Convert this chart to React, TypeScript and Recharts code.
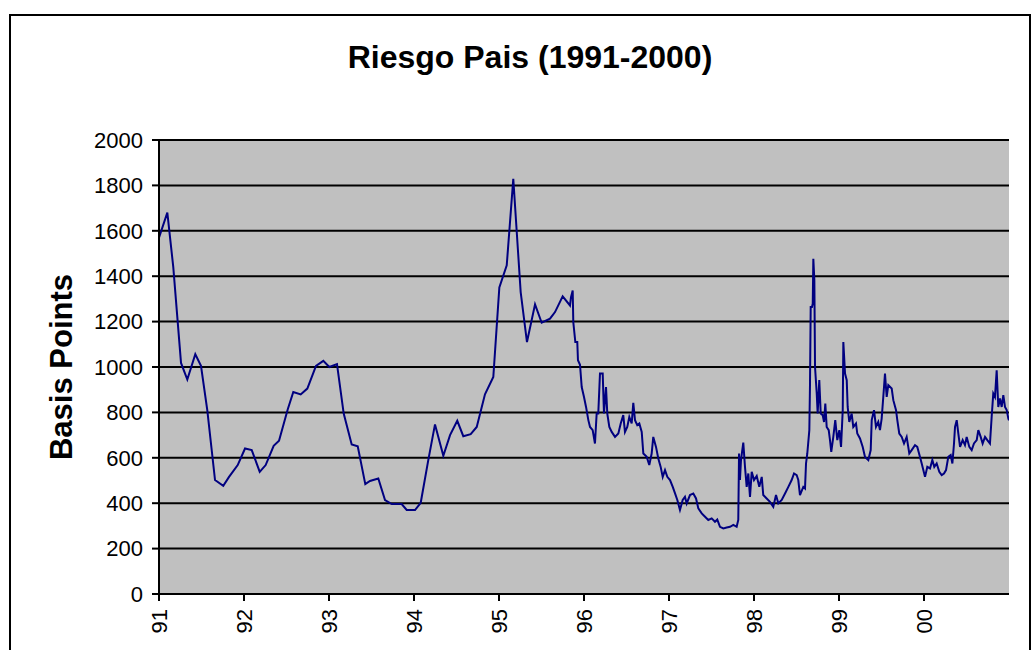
import React from 'react';
import { LineChart, Line, XAxis, YAxis, CartesianGrid } from 'recharts';

const FONT = "Arial, 'Liberation Sans', sans-serif";

const chartTitle = 'Riesgo Pais (1991-2000)';
const yAxisTitle = 'Basis Points';

const xTickValues = [1991, 1992, 1993, 1994, 1995, 1996, 1997, 1998, 1999, 2000];
const xTickLabels = ['91', '92', '93', '94', '95', '96', '97', '98', '99', '00'];
const yTickValues = [0, 200, 400, 600, 800, 1000, 1200, 1400, 1600, 1800, 2000];

// fractional year of each observation
const dates = [
  1991.000, 1991.098, 1991.168, 1991.259, 1991.333, 1991.427, 1991.494, 1991.568, 1991.659, 1991.756,
  1991.824, 1991.926, 1992.012, 1992.091, 1992.185, 1992.255, 1992.349, 1992.412, 1992.514, 1992.580,
  1992.667, 1992.745, 1992.847, 1992.933, 1993.004, 1993.094, 1993.173, 1993.267, 1993.338, 1993.427,
  1993.482, 1993.580, 1993.659, 1993.738, 1993.855, 1993.914, 1994.012, 1994.079, 1994.168, 1994.247,
  1994.345, 1994.424, 1994.509, 1994.580, 1994.667, 1994.738, 1994.835, 1994.933, 1995.004, 1995.091,
  1995.168, 1995.255, 1995.329, 1995.424, 1995.502, 1995.600, 1995.659, 1995.749, 1995.835, 1995.847,
  1995.867, 1995.874, 1995.898, 1995.921, 1995.929, 1995.953, 1995.973, 1996.000, 1996.024, 1996.051,
  1996.071, 1996.102, 1996.129, 1996.149, 1996.168, 1996.188, 1996.220, 1996.235, 1996.259, 1996.274,
  1996.298, 1996.326, 1996.365, 1996.404, 1996.432, 1996.462, 1996.482, 1996.509, 1996.533, 1996.561,
  1996.580, 1996.600, 1996.627, 1996.651, 1996.679, 1996.698, 1996.738, 1996.768, 1996.796, 1996.815,
  1996.847, 1996.874, 1996.902, 1996.926, 1996.953, 1996.980, 1997.012, 1997.044, 1997.071, 1997.098,
  1997.129, 1997.161, 1997.188, 1997.208, 1997.247, 1997.286, 1997.318, 1997.345, 1997.385, 1997.424,
  1997.462, 1997.502, 1997.541, 1997.568, 1997.600, 1997.639, 1997.679, 1997.718, 1997.757, 1997.796,
  1997.815, 1997.824, 1997.835, 1997.847, 1997.874, 1997.894, 1997.914, 1997.933, 1997.953, 1997.973,
  1998.000, 1998.032, 1998.062, 1998.091, 1998.109, 1998.149, 1998.188, 1998.227, 1998.259, 1998.286,
  1998.326, 1998.365, 1998.404, 1998.443, 1998.471, 1998.502, 1998.521, 1998.541, 1998.580, 1998.600,
  1998.612, 1998.627, 1998.651, 1998.659, 1998.667, 1998.682, 1998.691, 1998.698, 1998.710, 1998.718,
  1998.738, 1998.749, 1998.768, 1998.785, 1998.808, 1998.824, 1998.839, 1998.855, 1998.879, 1998.894,
  1998.909, 1998.933, 1998.956, 1998.980, 1999.004, 1999.024, 1999.044, 1999.051, 1999.071, 1999.091,
  1999.102, 1999.121, 1999.149, 1999.168, 1999.200, 1999.215, 1999.247, 1999.279, 1999.306, 1999.345,
  1999.373, 1999.385, 1999.412, 1999.435, 1999.462, 1999.482, 1999.502, 1999.521, 1999.541, 1999.561,
  1999.580, 1999.620, 1999.639, 1999.671, 1999.686, 1999.709, 1999.738, 1999.765, 1999.796, 1999.827,
  1999.855, 1999.894, 1999.921, 1999.953, 1999.973, 1999.992, 2000.012, 2000.039, 2000.071, 2000.098,
  2000.121, 2000.149, 2000.180, 2000.208, 2000.235, 2000.259, 2000.286, 2000.314, 2000.334, 2000.353,
  2000.365, 2000.385, 2000.404, 2000.424, 2000.455, 2000.482, 2000.502, 2000.533, 2000.561, 2000.588,
  2000.620, 2000.639, 2000.667, 2000.690, 2000.718, 2000.745, 2000.776, 2000.796, 2000.815, 2000.835,
  2000.855, 2000.874, 2000.894, 2000.914, 2000.933, 2000.953, 2000.973, 2000.992, 2001.000,
];

// country risk spread, basis points
const basisPoints = [
  1570, 1680, 1440, 1018, 945, 1056, 1005, 810, 502, 477,
  516, 568, 641, 634, 538, 568, 653, 675, 813, 890,
  879, 905, 1005, 1027, 1000, 1013, 795, 659, 651, 484,
  498, 509, 414, 396, 396, 370, 370, 402, 590, 747,
  609, 700, 763, 695, 704, 736, 880, 956, 1350, 1448,
  1829, 1330, 1110, 1276, 1195, 1213, 1242, 1311, 1271, 1308,
  1337, 1198, 1110, 1110, 1030, 1010, 912, 868, 824, 766,
  736, 722, 663, 795, 795, 971, 971, 795, 912, 795,
  736, 714, 692, 707, 751, 788, 714, 736, 780, 751,
  842, 766, 744, 751, 714, 619, 604, 568, 619, 692,
  648, 597, 560, 516, 546, 516, 502, 472, 443, 414,
  370, 414, 428, 399, 436, 443, 421, 377, 355, 340,
  326, 333, 318, 328, 296, 289, 293, 296, 304, 296,
  326, 619, 502, 590, 667, 560, 472, 531, 428, 538,
  502, 520, 472, 516, 436, 421, 406, 384, 436, 399,
  414, 443, 472, 502, 531, 524, 502, 436, 472, 465,
  575, 619, 722, 927, 1264, 1264, 1279, 1477, 1382, 1000,
  883, 795, 942, 795, 788, 758, 839, 736, 722, 678,
  626, 692, 766, 678, 722, 648, 810, 1110, 971, 942,
  824, 758, 795, 736, 751, 707, 685, 648, 604, 590,
  634, 766, 810, 736, 758, 722, 773, 868, 971, 868,
  920, 905, 854, 810, 766, 707, 692, 663, 692, 619,
  634, 656, 648, 604, 575, 546, 516, 560, 553, 590,
  560, 575, 538, 524, 531, 546, 604, 612, 575, 663,
  736, 766, 707, 648, 678, 656, 692, 648, 634, 663,
  678, 722, 692, 663, 692, 678, 663, 780, 883, 868,
  985, 824, 861, 824, 876, 824, 810, 773, 765,
];

const data = dates.map((t, i) => ({ t, v: basisPoints[i] }));

const XTick = (props: any) => {
  const { x, y, payload } = props;
  const idx = xTickValues.indexOf(payload.value);
  const label = idx >= 0 ? xTickLabels[idx] : '';
  return (
    <text
      x={x}
      y={y}
      transform={`rotate(-90, ${x}, ${y})`}
      textAnchor="end"
      dominantBaseline="central"
      fontSize={22}
      fontFamily={FONT}
      fill="#000"
    >
      {label}
    </text>
  );
};

export default function App() {
  return (
    <div style={{ position: 'absolute', left: 0, top: 0, width: 1034, height: 650, background: '#fff', overflow: 'hidden' }}>
      <LineChart
        width={1034}
        height={650}
        data={data}
        margin={{ top: 140, right: 25, bottom: 0, left: 79 }}
      >
        <CartesianGrid
          horizontal={true}
          vertical={false}
          stroke="#000"
          strokeWidth={2}
          fill="#C0C0C0"
          fillOpacity={1}
        />
        <XAxis
          dataKey="t"
          type="number"
          domain={[1991, 2001]}
          ticks={xTickValues}
          interval={0}
          height={56}
          stroke="#000"
          strokeWidth={2}
          tickSize={7}
          tickMargin={8}
          tick={<XTick />}
          allowDataOverflow
        />
        <YAxis
          type="number"
          domain={[0, 2000]}
          ticks={yTickValues}
          interval={0}
          width={80}
          stroke="#000"
          strokeWidth={2}
          tickSize={7}
          tickMargin={9}
          tick={{ fontSize: 22, fontFamily: FONT, fill: '#000' }}
        />
        <Line
          type="linear"
          dataKey="v"
          stroke="#000080"
          strokeWidth={2}
          dot={false}
          activeDot={false}
          isAnimationActive={false}
        />
      </LineChart>
      <svg
        width={1034}
        height={650}
        style={{ position: 'absolute', left: 0, top: 0, pointerEvents: 'none' }}
      >
        <rect x={10} y={15} width={1020} height={700} fill="none" stroke="#000" strokeWidth={2} />
        <text x={530} y={68} textAnchor="middle" fontSize={32} fontWeight="bold" fontFamily={FONT} fill="#000">
          {chartTitle}
        </text>
        <text
          x={72}
          y={367}
          transform="rotate(-90, 72, 367)"
          textAnchor="middle"
          fontSize={31}
          fontWeight="bold"
          fontFamily={FONT}
          fill="#000"
        >
          {yAxisTitle}
        </text>
      </svg>
    </div>
  );
}
